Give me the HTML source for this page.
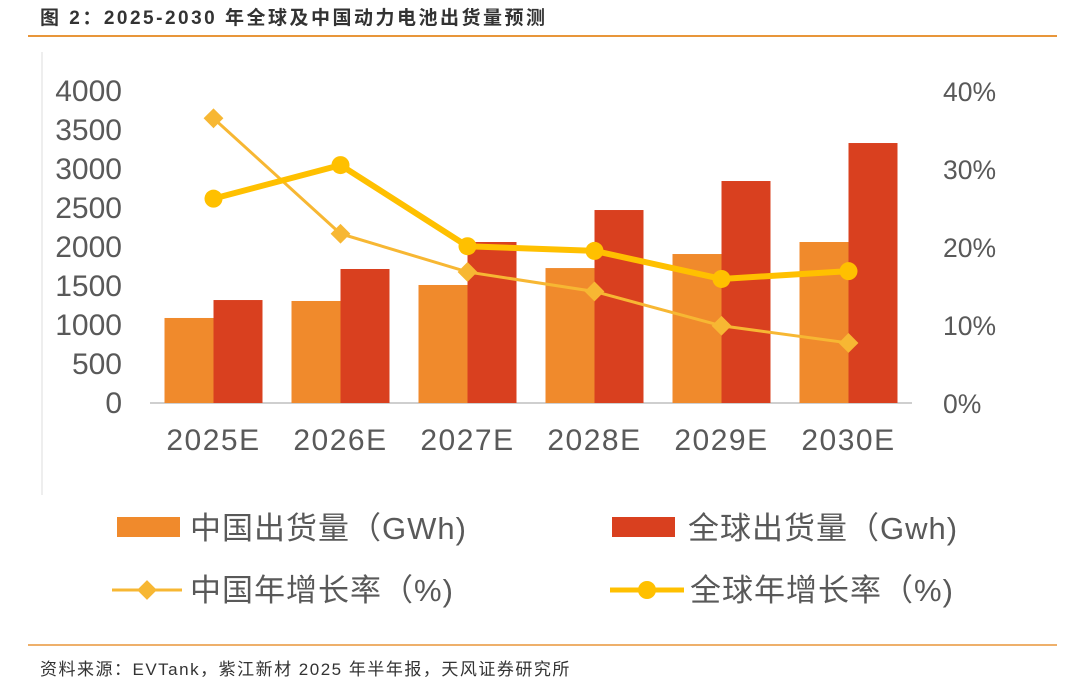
<!DOCTYPE html>
<html><head><meta charset="utf-8"><style>
body{margin:0;background:#fff;width:1080px;height:690px;overflow:hidden;font-family:"Liberation Sans","Noto Sans CJK SC",sans-serif}
</style></head><body>
<svg width="1080" height="690" xmlns="http://www.w3.org/2000/svg">
<text x="40" y="24" font-size="19" font-weight="bold" letter-spacing="2.5" fill="#333">图 2：2025-2030 年全球及中国动力电池出货量预测</text>
<line x1="28" y1="36" x2="1057" y2="36" stroke="#E8963A" stroke-width="2"/>
<line x1="42" y1="52" x2="42" y2="495" stroke="#ddd" stroke-width="1"/>
<g id="axes"></g><g id="bars"></g><g id="lines"></g>
<g font-size="31" letter-spacing="1" fill="#595959">
<rect x="117" y="517" width="63" height="20" fill="#F08A2C"/>
<text x="190" y="539">中国出货量（GWh)</text>
<rect x="612" y="517" width="63" height="20" fill="#D9401F"/>
<text x="688" y="539">全球出货量（Gwh)</text>
<line x1="112" y1="590" x2="182" y2="590" stroke="#F7B733" stroke-width="3"/>
<rect x="140" y="583" width="14" height="14" fill="#F7B733" transform="rotate(45 147 590)"/>
<text x="190" y="601">中国年增长率（%)</text>
<line x1="610" y1="590" x2="684" y2="590" stroke="#FFC000" stroke-width="5"/>
<circle cx="647" cy="590" r="9" fill="#FFC000"/>
<text x="690" y="601">全球年增长率（%)</text>
</g>
<line x1="28" y1="645" x2="1057" y2="645" stroke="#E8963A" stroke-width="1.5"/>
<text x="40" y="675" font-size="17" letter-spacing="1.5" fill="#333">资料来源：EVTank，紫江新材 2025 年半年报，天风证券研究所</text>
</svg>
<script>
const categories=["2025E","2026E","2027E","2028E","2029E","2030E"];
const chinaShipment=[1090,1308,1513,1730,1910,2064];
const globalShipment=[1320,1718,2064,2474,2846,3333];
const chinaGrowth=[36.5,21.7,16.8,14.3,9.9,7.7];
const globalGrowth=[26.2,30.5,20.1,19.5,15.9,16.9];
const leftTicks=[0,500,1000,1500,2000,2500,3000,3500,4000];
const rightTicks=[0,10,20,30,40];
const NS="http://www.w3.org/2000/svg";
const X0=150,X1=912,Y0=403,Y1=91;
const band=(X1-X0)/categories.length;
const xc=i=>X0+band*(i+0.5);
const yL=v=>Y0-(v/4000)*(Y0-Y1);
const yR=v=>Y0-(v/40)*(Y0-Y1);
function mk(tag,attrs,parent){const e=document.createElementNS(NS,tag);for(const k in attrs)e.setAttribute(k,attrs[k]);document.getElementById(parent).appendChild(e);return e;}
leftTicks.forEach(t=>{const e=mk("text",{x:122,y:yL(t)+10,"font-size":30,fill:"#595959","text-anchor":"end"},"axes");e.textContent=t;

});
rightTicks.forEach(t=>{const e=mk("text",{x:943,y:yR(t)+10,"font-size":26.5,fill:"#595959"},"axes");e.textContent=t+"%";

});
const ax=mk("line",{x1:X0,y1:Y0,x2:X1,y2:Y0,stroke:"#bfbfbf","stroke-width":1.5},"axes");


categories.forEach((c,i)=>{const e=mk("text",{x:xc(i),y:450,"font-size":30,"letter-spacing":1.5,fill:"#595959","text-anchor":"middle"},"axes");e.textContent=c;


const bw=49;
const b1=mk("rect",{x:xc(i)-bw,y:yL(chinaShipment[i]),width:bw,height:Y0-yL(chinaShipment[i]),fill:"#F08A2C"},"bars");


const b2=mk("rect",{x:xc(i),y:yL(globalShipment[i]),width:bw,height:Y0-yL(globalShipment[i]),fill:"#D9401F"},"bars");

});
const p1=mk("polyline",{points:chinaGrowth.map((v,i)=>xc(i)+","+yR(v)).join(" "),fill:"none",stroke:"#F7B733","stroke-width":3},"lines");


const p2=mk("polyline",{points:globalGrowth.map((v,i)=>xc(i)+","+yR(v)).join(" "),fill:"none",stroke:"#FFC000","stroke-width":6},"lines");


chinaGrowth.forEach((v,i)=>{const m=mk("rect",{x:xc(i)-7,y:yR(v)-7,width:14,height:14,fill:"#F7B733",transform:`rotate(45 ${xc(i)} ${yR(v)})`},"lines");

});
globalGrowth.forEach((v,i)=>{const m=mk("circle",{cx:xc(i),cy:yR(v),r:9,fill:"#FFC000"},"lines");

});
</script>
</body></html>
